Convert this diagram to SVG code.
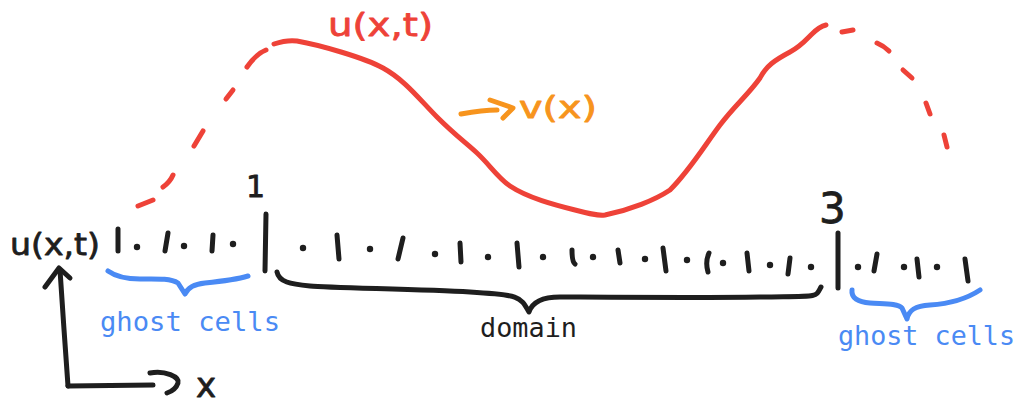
<svg xmlns="http://www.w3.org/2000/svg" width="1020" height="403" viewBox="0 0 1020 403">
<style>
.k{fill:none;stroke:#1e1e1e;stroke-width:5;stroke-linecap:round;stroke-linejoin:round}
.dot{fill:#1e1e1e}
.r{fill:none;stroke:#ee4238;stroke-width:5;stroke-linecap:round;stroke-linejoin:round}
.b{fill:none;stroke:#4a8af4;stroke-width:5;stroke-linecap:round;stroke-linejoin:round}
.o{fill:none;stroke:#f7941d;stroke-width:5;stroke-linecap:round;stroke-linejoin:round}
.hand{font-family:"DejaVu Sans","Liberation Sans",sans-serif;stroke-width:0.8;stroke-linejoin:round}
.mono{font-family:"DejaVu Sans Mono","Liberation Mono",monospace;font-size:27px}
</style>
<rect width="1020" height="403" fill="#ffffff"/>

<g id="function-curve">
  <path class="r" d="M138,206 L153,200"/>
  <path class="r" d="M163,187 Q170,182 173,175"/>
  <path class="r" d="M194,146 L203,131"/>
  <path class="r" d="M226,99 L233,90"/>
  <path class="r" d="M247,67 Q256,54 266,50"/>
  <path class="r" d="M274,44 C283,41 290,40 297,41 C320,45 365,58 383,68 C405,80 420,100 437,117 C455,135 465,142 477,153 C490,165 497,177 510,186 C528,198 555,205 575,210 C590,214 598,216 605,215 C630,210 655,200 670,190 C690,170 705,145 720,125 C735,105 748,95 760,78 C766,66 775,60 790,52 C800,47 806,40 812,34 C818,28 822,26 826,25"/>
  <path class="r" d="M842,32 L853,30"/>
  <path class="r" d="M877,43 Q884,46 889,51"/>
  <path class="r" d="M903,70 L912,78"/>
  <path class="r" d="M926,103 L930,114"/>
  <path class="r" d="M944,135 L947,147"/>
  <text class="hand" x="328" y="36" font-size="32" textLength="105" lengthAdjust="spacingAndGlyphs" fill="#ee4238" stroke="#ee4238">u(x,t)</text>
</g>

<g id="v-label">
  <path class="o" d="M461,114 C472,112 485,110 497,110"/>
  <path class="o" d="M490,100 L513,108 L503,118"/>
  <text class="hand" x="519" y="118" font-size="30" textLength="78" lengthAdjust="spacingAndGlyphs" fill="#f7941d" stroke="#f7941d">v(x)</text>
</g>

<g id="grid">
  <path class="k" d="M118,229 L118,251"/>
  <circle class="dot" cx="137" cy="247" r="3.2"/>
  <path class="k" d="M168,233 L165,251"/>
  <circle class="dot" cx="184" cy="246" r="3.2"/>
  <path class="k" d="M213,235 L212,251"/>
  <circle class="dot" cx="233" cy="244" r="3.2"/>
  <path class="k" d="M266,214 L265,271"/>
  <circle class="dot" cx="303" cy="248" r="3.2"/>
  <path class="k" d="M337,235 L339,259"/>
  <circle class="dot" cx="370" cy="249" r="3.2"/>
  <path class="k" d="M403,238 L398,259"/>
  <circle class="dot" cx="435" cy="254" r="3.2"/>
  <path class="k" d="M460,243 L461,262"/>
  <circle class="dot" cx="488" cy="257" r="3.2"/>
  <path class="k" d="M517,243 L519,267"/>
  <circle class="dot" cx="543" cy="257" r="3.2"/>
  <path class="k" d="M572,250 Q572,262 575,264"/>
  <circle class="dot" cx="593" cy="257" r="3.2"/>
  <path class="k" d="M618,250 L620,263"/>
  <circle class="dot" cx="645" cy="259" r="3.2"/>
  <path class="k" d="M663,248 L666,271"/>
  <circle class="dot" cx="687" cy="260" r="3.2"/>
  <path class="k" d="M709,253 Q705,262 708,272"/>
  <circle class="dot" cx="723" cy="263" r="3.2"/>
  <path class="k" d="M747,253 L749,271"/>
  <circle class="dot" cx="770" cy="265" r="3.2"/>
  <path class="k" d="M790,258 L788,274"/>
  <circle class="dot" cx="811" cy="267" r="3.2"/>
  <path class="k" d="M838,233 L838,288"/>
  <circle class="dot" cx="858" cy="267" r="3.2"/>
  <path class="k" d="M877,254 L874,271"/>
  <circle class="dot" cx="904" cy="267" r="3.2"/>
  <path class="k" d="M917,259 L919,277"/>
  <circle class="dot" cx="937" cy="267" r="3.2"/>
  <path class="k" d="M965,259 L968,281"/>
  <text class="hand" x="246" y="197" font-size="30" fill="#1e1e1e" stroke="#1e1e1e">1</text>
  <text class="hand" x="819" y="223" font-size="42" fill="#1e1e1e" stroke="#1e1e1e">3</text>
</g>

<g id="ghost-left">
  <path class="b" d="M108,271 C115,276 125,279 140,279 S170,278 178,283 L185,294 C188,287 195,284 205,283 S235,280 248,276"/>
  <text class="mono" x="100" y="331" textLength="180" lengthAdjust="spacingAndGlyphs" fill="#4a8af4">ghost cells</text>
</g>

<g id="domain">
  <path class="k" d="M277,272 C279,282 290,284 310,286 S420,289 470,292 S520,296 529,312 C533,300 545,297 560,297 S700,298 760,297 S815,298 821,287"/>
  <text class="mono" x="480" y="337" font-size="31" textLength="97" lengthAdjust="spacingAndGlyphs" fill="#1e1e1e">domain</text>
</g>

<g id="ghost-right">
  <path class="b" d="M852,290 C851,298 858,302 870,303 S898,303 902,308 L907,319 C909,310 915,306 930,305 S965,300 980,290"/>
  <text class="mono" x="838" y="345" textLength="177" lengthAdjust="spacingAndGlyphs" fill="#4a8af4">ghost cells</text>
</g>

<g id="axes">
  <path class="k" d="M68,386 C66,360 62,300 60,270"/>
  <path class="k" d="M45,287 L59,268 L70,278"/>
  <path class="k" d="M68,386 L153,385"/>
  <path class="k" d="M150,373 C165,370 180,377 178,383 C176,389 170,392 167,393"/>
  <text class="hand" x="10" y="255" font-size="30" textLength="90" lengthAdjust="spacingAndGlyphs" fill="#1e1e1e" stroke="#1e1e1e">u(x,t)</text>
  <text class="hand" x="196" y="397" font-size="34" fill="#1e1e1e" stroke="#1e1e1e">x</text>
</g>
</svg>
